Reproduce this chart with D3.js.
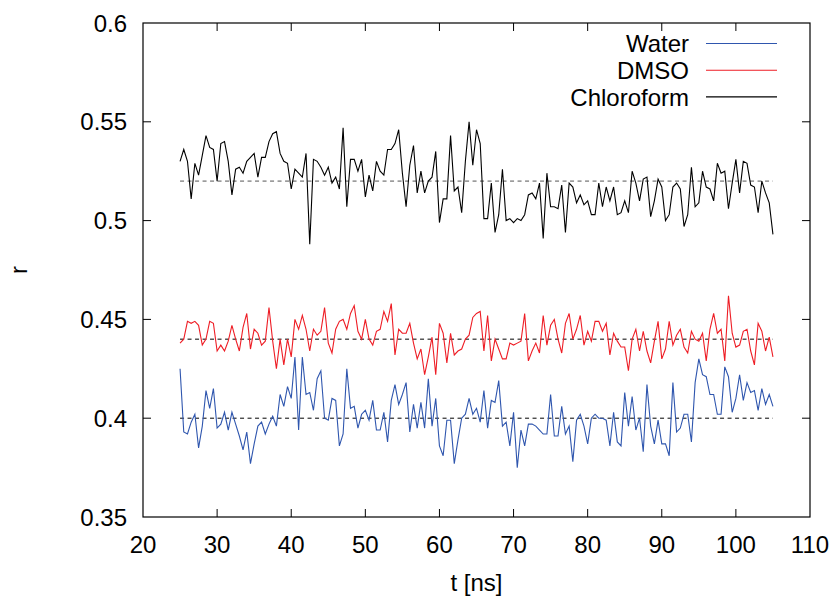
<!DOCTYPE html>
<html>
<head>
<meta charset="utf-8">
<script src="https://cdn.jsdelivr.net/npm/d3@7"></script>
<style>
  body { margin: 0; background: #fff; }
  svg text { font-family: "Liberation Sans", Arial, Helvetica, sans-serif; fill: #000; }
</style>
</head>
<body>
<svg id="chart" width="838" height="596"></svg>
<script>
// sampling times: 25 ns to 105 ns, every 0.5 ns
const times = d3.range(25, 105.001, 0.5);

const water = [
  0.425,0.393,0.392,0.398,0.402,0.385,0.396,0.414,0.405,0.415,
  0.395,0.397,0.403,0.394,0.403,0.397,0.391,0.384,0.393,0.377,
  0.387,0.396,0.398,0.392,0.397,0.401,0.396,0.412,0.406,0.416,
  0.410,0.431,0.394,0.431,0.412,0.413,0.404,0.420,0.424,0.400,
  0.399,0.410,0.409,0.386,0.392,0.425,0.405,0.406,0.395,0.402,
  0.404,0.399,
  0.409,0.394,0.394,0.403,0.388,0.409,0.417,0.407,0.412,0.418,
  0.393,0.407,0.395,0.408,0.395,0.420,0.396,0.410,0.386,0.381,
  0.399,0.399,0.377,0.389,0.400,0.402,0.410,0.402,0.405,0.398,
  0.414,0.395,0.409,0.408,0.419,0.396,0.398,0.386,0.403,0.375,
  0.394,0.386,0.397,0.397,0.396,0.394,0.392,0.392,0.412,0.391,
  0.391,0.406,0.392,0.396,0.378,0.399,0.402,0.396,0.387,0.400,
  0.402,0.400,0.400,0.399,0.386,0.403,0.388,0.386,0.413,0.396,
  0.411,0.394,0.400,0.383,0.417,0.396,0.387,0.399,0.387,0.387,
  0.381,0.418,0.393,0.395,0.402,0.402,0.388,0.418,0.430,0.422,
  0.421,0.412,0.412,0.402,0.402,0.426,0.421,0.403,0.410,0.422,
  0.409,0.418,0.413,0.414,0.404,0.415,0.407,0.412,0.406
];

const dmso = [
  0.438,0.440,0.449,0.448,0.449,0.447,0.437,0.440,0.449,0.448,
  0.434,0.437,0.434,0.439,0.447,0.440,0.434,0.446,0.453,0.435,
  0.445,0.443,0.437,0.439,0.456,0.439,0.425,0.440,0.427,0.440,
  0.431,0.450,0.445,0.452,0.445,0.434,0.445,0.442,0.444,0.456,
  0.438,0.433,0.445,0.449,0.450,0.445,0.453,0.457,0.444,0.440,
  0.450,0.440,
  0.437,0.444,0.445,0.454,0.449,0.458,0.432,0.445,0.443,0.443,
  0.448,0.438,0.430,0.435,0.422,0.431,0.441,0.422,0.448,0.443,
  0.428,0.443,0.432,0.434,0.435,0.440,0.442,0.451,0.453,0.454,
  0.434,0.452,0.429,0.440,0.435,0.430,0.430,0.438,0.437,0.438,
  0.439,0.453,0.429,0.434,0.438,0.433,0.452,0.437,0.447,0.450,
  0.440,0.433,0.448,0.453,0.440,0.445,0.452,0.437,0.444,0.439,
  0.449,0.449,0.444,0.448,0.432,0.443,0.439,0.436,0.436,0.424,
  0.440,0.445,0.434,0.444,0.434,0.428,0.439,0.449,0.430,0.435,
  0.449,0.437,0.442,0.445,0.436,0.433,0.444,0.440,0.439,0.443,
  0.429,0.445,0.453,0.443,0.445,0.429,0.462,0.443,0.436,0.437,
  0.444,0.445,0.434,0.427,0.448,0.444,0.434,0.441,0.431
];

const chloroform = [
  0.530,0.536,0.530,0.511,0.529,0.523,0.533,0.543,0.537,0.536,
  0.520,0.539,0.540,0.530,0.513,0.526,0.527,0.524,0.530,0.532,
  0.534,0.522,0.532,0.532,0.540,0.544,0.545,0.534,0.530,0.529,
  0.516,0.526,0.524,0.522,0.534,0.488,0.531,0.530,0.527,0.523,
  0.527,0.519,0.522,0.516,0.547,0.507,0.531,0.531,0.525,0.531,
  0.512,0.523,
  0.515,0.530,0.525,0.523,0.536,0.536,0.539,0.546,0.524,0.507,
  0.528,0.538,0.514,0.525,0.514,0.520,0.522,0.535,0.499,0.511,
  0.511,0.543,0.515,0.517,0.504,0.530,0.550,0.528,0.546,0.539,
  0.501,0.501,0.519,0.494,0.503,0.526,0.500,0.501,0.499,0.501,
  0.500,0.503,0.513,0.514,0.511,0.519,0.491,0.524,0.507,0.507,
  0.506,0.518,0.494,0.519,0.517,0.509,0.513,0.508,0.510,0.503,
  0.503,0.519,0.507,0.517,0.510,0.517,0.503,0.504,0.510,0.504,
  0.525,0.519,0.510,0.521,0.522,0.502,0.510,0.521,0.517,0.500,
  0.503,0.517,0.519,0.516,0.497,0.503,0.527,0.507,0.509,0.525,
  0.517,0.516,0.510,0.529,0.524,0.525,0.506,0.519,0.531,0.514,
  0.530,0.529,0.518,0.517,0.504,0.520,0.514,0.509,0.493
];

// mean levels drawn as dashed lines
const seriesNames = ["Water", "DMSO", "Chloroform"];
const seriesData = [water, dmso, chloroform];
const seriesColors = ["#2f56ae", "#ee1d25", "#000000"];
const meanLevels = [0.40, 0.44, 0.52];
const meanColors = ["#000000", "#000000", "#555555"];
const meanRange = [25, 105];

const xTicks = [20, 30, 40, 50, 60, 70, 80, 90, 100, 110];
const yTicks = [0.35, 0.4, 0.45, 0.5, 0.55, 0.6];

const svg = d3.select("#chart");
const margin = {left: 143, right: 28, top: 23, bottom: 79};
const W = 838, H = 596;

const x = d3.scaleLinear().domain([20, 110]).range([margin.left, W - margin.right]);
const y = d3.scaleLinear().domain([0.35, 0.6]).range([H - margin.bottom, margin.top]);

const tickLen = 8;
const fontSize = 24;

// frame
svg.append("rect")
  .attr("x", x(20)).attr("y", y(0.6))
  .attr("width", x(110) - x(20)).attr("height", y(0.35) - y(0.6))
  .attr("fill", "none").attr("stroke", "#000").attr("stroke-width", 1.2);

// inward ticks on all four sides
const tickG = svg.append("g").attr("stroke", "#000").attr("stroke-width", 1);
xTicks.slice(1, -1).forEach(t => {
  tickG.append("line").attr("x1", x(t)).attr("x2", x(t)).attr("y1", y(0.35)).attr("y2", y(0.35) - tickLen);
  tickG.append("line").attr("x1", x(t)).attr("x2", x(t)).attr("y1", y(0.6)).attr("y2", y(0.6) + tickLen);
});
yTicks.slice(1, -1).forEach(v => {
  tickG.append("line").attr("x1", x(20)).attr("x2", x(20) + tickLen).attr("y1", y(v)).attr("y2", y(v));
  tickG.append("line").attr("x1", x(110)).attr("x2", x(110) - tickLen).attr("y1", y(v)).attr("y2", y(v));
});

// tick labels
svg.append("g").selectAll("text")
  .data(xTicks).enter().append("text")
  .attr("x", d => x(d)).attr("y", 553)
  .attr("text-anchor", "middle")
  .style("font-size", fontSize + "px")
  .text(d => d);

svg.append("g").selectAll("text")
  .data(yTicks).enter().append("text")
  .attr("x", 127).attr("y", d => y(d))
  .attr("dy", "0.36em")
  .attr("text-anchor", "end")
  .style("font-size", fontSize + "px")
  .text(d => d3.format("")(d));

// axis titles
svg.append("text")
  .attr("x", (x(20) + x(110)) / 2).attr("y", 591)
  .attr("text-anchor", "middle")
  .style("font-size", fontSize + "px")
  .text("t [ns]");

svg.append("text")
  .attr("transform", "translate(27,270) rotate(-90)")
  .attr("text-anchor", "middle")
  .style("font-size", fontSize + "px")
  .text("r");

// dashed mean lines
meanLevels.forEach((m, i) => {
  svg.append("line")
    .attr("x1", x(meanRange[0])).attr("x2", x(meanRange[1]))
    .attr("y1", y(m)).attr("y2", y(m))
    .attr("stroke", meanColors[i]).attr("stroke-width", 1)
    .attr("stroke-dasharray", "4,3.5");
});

// series lines
const line = d3.line()
  .x((d, i) => x(times[i]))
  .y(d => y(d));

seriesData.forEach((s, i) => {
  svg.append("path")
    .datum(s)
    .attr("d", line)
    .attr("fill", "none")
    .attr("stroke", seriesColors[i])
    .attr("stroke-width", 1.1)
    .attr("stroke-linejoin", "miter");
});

// legend
const legend = svg.append("g");
seriesNames.forEach((name, i) => {
  const ly = 43.5 + i * 26.7;
  legend.append("text")
    .attr("x", 689).attr("y", ly)
    .attr("dy", "0.36em")
    .attr("text-anchor", "end")
    .style("font-size", fontSize + "px")
    .text(name);
  legend.append("line")
    .attr("x1", 706).attr("x2", 777)
    .attr("y1", ly).attr("y2", ly)
    .attr("stroke", seriesColors[i]).attr("stroke-width", 1.1);
});
</script>
</body>
</html>
